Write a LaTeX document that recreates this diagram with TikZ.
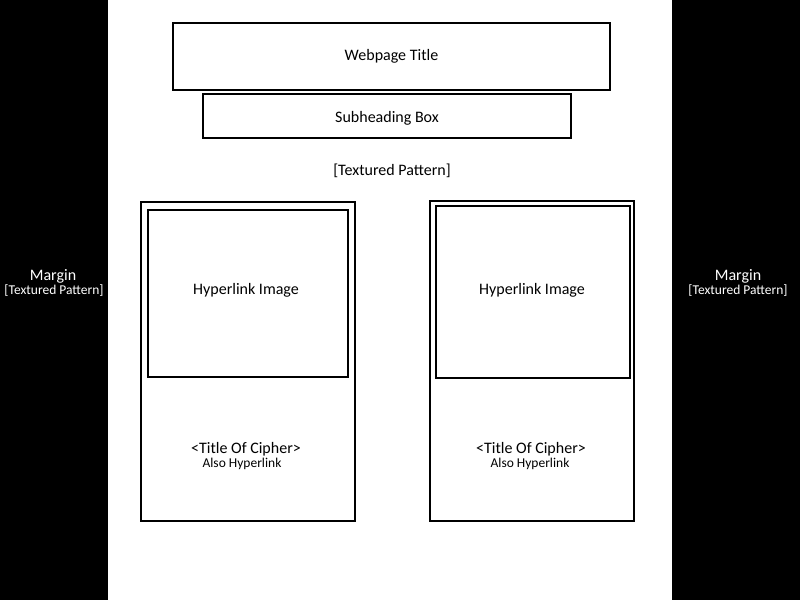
\documentclass[tikz,border=0pt]{standalone}
\usepackage{fontspec}
\setmainfont{Carlito}
\begin{document}
\begin{tikzpicture}[x=1pt,y=-1pt,
  frame/.style={draw=black,line width=2pt,fill=white},
  big/.style={font=\fontsize{16}{18}\selectfont},
  small/.style={font=\fontsize{13.5}{15}\selectfont},
  lbl/.style={inner sep=0pt,anchor=center}]
  % page and side margins
  \fill[white] (0,0) rectangle (800,600);
  \useasboundingbox (0,0) rectangle (800,600);
  \fill[black] (0,0) rectangle (108,600);
  \fill[black] (672,0) rectangle (800,600);
  \node[lbl,big,text=white] (lmargin) at (53,276) {Margin};
  \node[lbl,small,text=white] (lmarginsub) at (54,291) {[Textured Pattern]};
  \node[lbl,big,text=white] (rmargin) at (738,276) {Margin};
  \node[lbl,small,text=white] (rmarginsub) at (738,291) {[Textured Pattern]};
  % header boxes
  \draw[frame] (173,23) rectangle (610,90);
  \node[lbl,big] (title) at (391.5,56) {Webpage Title};
  \draw[frame] (203,94) rectangle (571,138);
  \node[lbl,big] (sub) at (387,118) {Subheading Box};
  \node[lbl,big] (pattern) at (392,171) {[Textured Pattern]};
  % left card
  \draw[frame] (141,202) rectangle (355,521);
  \draw[frame] (148,210) rectangle (348,377);
  \node[lbl,big] (limg) at (246,290) {Hyperlink Image};
  \node[lbl,big] (ltitle) at (246,449) {<Title Of Cipher>};
  \node[lbl,small,anchor=north] (llink) at ([xshift=-4pt,yshift=-1.5pt]ltitle.south) {Also Hyperlink};
  % right card
  \draw[frame] (430,201) rectangle (634,521);
  \draw[frame] (436,206) rectangle (630,378);
  \node[lbl,big] (rimg) at (532,290) {Hyperlink Image};
  \node[lbl,big] (rtitle) at (531,449) {<Title Of Cipher>};
  \node[lbl,small,anchor=north] (rlink) at ([xshift=-1pt,yshift=-1.5pt]rtitle.south) {Also Hyperlink};
\end{tikzpicture}
\end{document}
